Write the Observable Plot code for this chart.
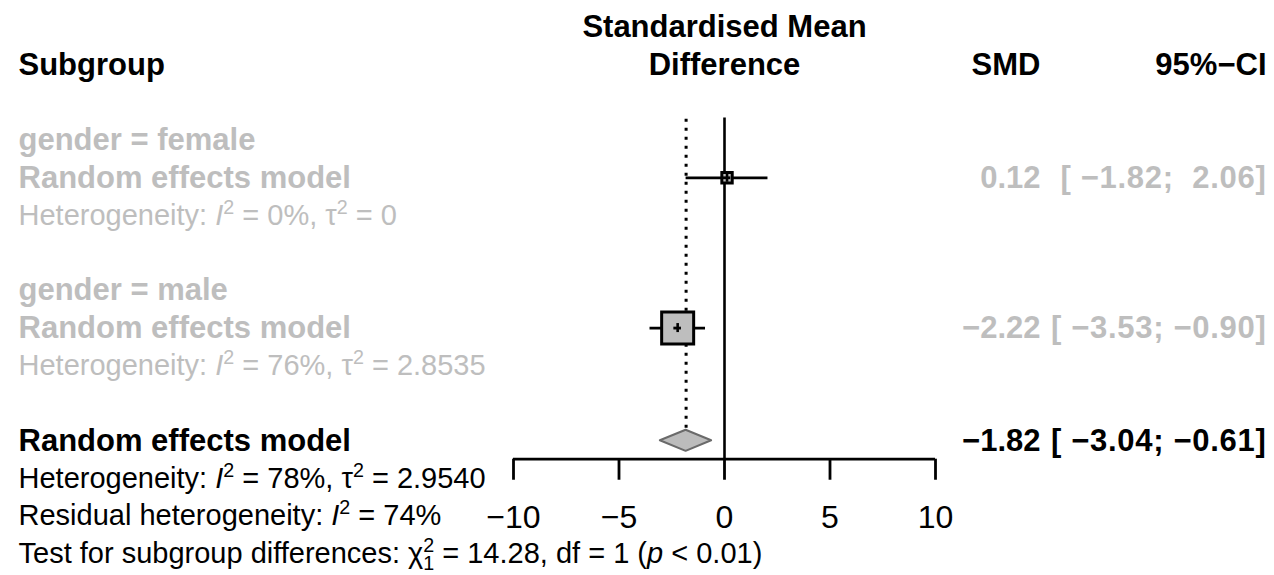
<!DOCTYPE html>
<html><head><meta charset="utf-8">
<script src="https://cdn.jsdelivr.net/npm/d3@7"></script>
<script src="https://cdn.jsdelivr.net/npm/@observablehq/plot@0.6"></script>
<style>body{margin:0;background:#fff} svg{display:block}</style>
</head><body><div id="chart"></div>
<script>
// ---- data ----
const subgroupLabels = ["gender = female", "gender = male"];
const subgroupSMD = [0.12, -2.22];
const subgroupLower = [-1.82, -3.53];
const subgroupUpper = [2.06, -0.90];
const subgroupWeight = [0.105, 1.0];
const subgroupSMDText = ["0.12", "\u22122.22"];
const subgroupCIText = ["[ \u22121.82;  2.06]", "[ \u22123.53; \u22120.90]"];
const subgroupHet = ["Heterogeneity: *I*^2 = 0%, \u03c4^2 = 0", "Heterogeneity: *I*^2 = 76%, \u03c4^2 = 2.8535"];
const overallSMD = -1.82, overallLower = -3.04, overallUpper = -0.61;
const overallSMDText = "\u22121.82";
const overallCIText = "[ \u22123.04; \u22120.61]";
const overallNotes = [
  "Heterogeneity: *I*^2 = 78%, \u03c4^2 = 2.9540",
  "Residual heterogeneity: *I*^2 = 74%",
  "Test for subgroup differences: \u03c7^2_1 = 14.28, df = 1 (*p* < 0.01)"
];
const tickValues = [-10, -5, 0, 5, 10];

// ---- layout rows ----
const GRAY = "#bebebe";
const FONT = "Liberation Sans, Arial, sans-serif";
const BOLD = 31, NORMAL = 29, TICK = 32, COL = 31;
const rowsPerGroup = 4;
const groups = subgroupLabels.map((lab, i) => ({
  label: lab, smd: subgroupSMD[i], lo: subgroupLower[i], hi: subgroupUpper[i],
  w: subgroupWeight[i], smdText: subgroupSMDText[i], ciText: subgroupCIText[i],
  het: subgroupHet[i], row: 2 + i * rowsPerGroup
}));
const overallRow = 2 + groups.length * rowsPerGroup;
const axisRow = overallRow + 0.49;
const tickEndRow = overallRow + 1.05;
const tickLabelRow = overallRow + 2.05;

const boldRows = [], normalRows = [];
groups.forEach(g => {
  boldRows.push({t: g.label, row: g.row, fill: GRAY});
  boldRows.push({t: "Random effects model", row: g.row + 1, fill: GRAY});
  normalRows.push({t: g.het, row: g.row + 2, fill: GRAY});
});
boldRows.push({t: "Random effects model", row: overallRow, fill: "black"});
overallNotes.forEach((t, i) => normalRows.push({t, row: overallRow + 1 + i, fill: "black"}));

const estimates = groups.map(g => ({x: g.smd, lo: g.lo, hi: g.hi, row: g.row + 1, side: 32 * Math.sqrt(g.w)}));
const diamondH = 0.28;
const diamond = [
  {x: overallLower, y1: overallRow, y2: overallRow},
  {x: overallSMD, y1: overallRow - diamondH, y2: overallRow + diamondH},
  {x: overallUpper, y1: overallRow, y2: overallRow}
];

const smdCol = groups.map(g => ({t: g.smdText, ci: g.ciText, row: g.row + 1, fill: GRAY}))
  .concat([{t: overallSMDText, ci: overallCIText, row: overallRow, fill: "black"}]);

const chart = Plot.plot({
  width: 1274, height: 575,
  margin: 0,
  x: {type: "linear", domain: [-10, 10], range: [513, 935], axis: null},
  y: {type: "linear", domain: [-1, 13], range: [27, 553], axis: null},
  r: {type: "identity"},
  style: {fontFamily: FONT, background: "white"},
  marks: [
    // headers
    Plot.text(["Standardised Mean"], {x: 0, y: -1, text: d => d, fontWeight: "bold", fontSize: BOLD, fill: "black"}),
    Plot.text(["Difference"], {x: 0, y: 0, text: d => d, fontWeight: "bold", fontSize: BOLD, fill: "black"}),
    Plot.text(["Subgroup"], {x: -10, dx: -495, y: 0, text: d => d, textAnchor: "start", fontWeight: "bold", fontSize: BOLD}),
    Plot.text(["SMD"], {x: 10, dx: 105, y: 0, text: d => d, textAnchor: "end", fontWeight: "bold", fontSize: BOLD}),
    Plot.text(["95%\u2212CI"], {x: 10, dx: 331, y: 0, text: d => d, textAnchor: "end", fontWeight: "bold", fontSize: BOLD}),
    // left labels
    Plot.text(boldRows, {x: -10, dx: -495, y: "row", text: "t", textAnchor: "start", fontWeight: "bold", fill: "fill", fontSize: BOLD}),
    Plot.text(normalRows, {x: -10, dx: -495, y: "row", text: "t", textAnchor: "start", fill: "fill", fontSize: NORMAL}),
    // reference lines
    Plot.ruleX([overallSMD], {x: d => d, y1: 1.44, y2: overallRow - diamondH - 0.05, stroke: "black", strokeWidth: 3, strokeDasharray: "3,6"}),
    Plot.ruleX([0], {x: d => d, y1: 1.41, y2: axisRow, stroke: "black", strokeWidth: 2.6}),
    // CI lines
    Plot.ruleY(estimates, {x1: "lo", x2: "hi", y: "row", stroke: "black", strokeWidth: 2.8}),
    // boxes
    Plot.dot(estimates, {x: "x", y: "row", symbol: "square", r: d => d.side / Math.sqrt(Math.PI),
      fill: GRAY, stroke: "black", strokeWidth: 3}),
    Plot.ruleX(estimates, {x: "x", y1: d => d.row - 0.12, y2: d => d.row + 0.12, stroke: "black", strokeWidth: 2.6}),
    Plot.ruleY(estimates, {x1: d => d.x - 0.18, x2: d => d.x + 0.18, y: "row", stroke: "black", strokeWidth: 2.8}),
    // diamond
    Plot.areaY(diamond, {x: "x", y1: "y1", y2: "y2", fill: "#bcbcbc", stroke: "#6a6a6a", strokeWidth: 2}),
    // axis
    Plot.ruleY([axisRow], {x1: -10, x2: 10, y: d => d, stroke: "black", strokeWidth: 2.8}),
    Plot.ruleX(tickValues, {x: d => d, y1: axisRow, y2: tickEndRow, stroke: "black", strokeWidth: 2.8}),
    Plot.text(tickValues, {x: d => d, y: tickLabelRow, text: d => d < 0 ? "\u2212" + Math.abs(d) : String(d), fontSize: TICK, fill: "black"}),
    // right columns
    Plot.text(smdCol, {x: 10, dx: 105, y: "row", text: "t", textAnchor: "end", fontSize: COL, fill: "fill", fontWeight: "bold"}),
    Plot.text(smdCol, {x: 10, dx: 331, y: "row", text: "ci", textAnchor: "end", fontSize: COL, fill: "fill", fontWeight: "bold"})
  ]
});
document.getElementById("chart").appendChild(chart);
chart.querySelectorAll("text").forEach(t => {
  t.setAttribute("xml:space", "preserve"); t.style.whiteSpace = "pre";
  if (t.textContent.startsWith("[")) t.style.letterSpacing = "0.7px";
});

// rich text: *italic*, ^superscript, _subscript (offsets in px of the parent size)
const ns = "http://www.w3.org/2000/svg";
chart.querySelectorAll("text").forEach(t => {
  const s = t.textContent;
  if (!/[\*\^_]/.test(s)) return;
  const fs = parseFloat(getComputedStyle(t).fontSize) || NORMAL;
  const small = fs * 0.68;
  while (t.firstChild) t.removeChild(t.firstChild);
  let i = 0, buf = "", italic = false, pendingDy = null;
  const span = (txt, attrs) => {
    const sp = document.createElementNS(ns, "tspan");
    sp.textContent = txt;
    for (const k in attrs) if (attrs[k] != null) sp.setAttribute(k, attrs[k]);
    t.appendChild(sp);
  };
  const flush = () => {
    if (buf) { span(buf, {"font-style": italic ? "italic" : null, dy: pendingDy}); pendingDy = null; buf = ""; }
  };
  while (i < s.length) {
    const c = s[i];
    if (c === "*") { flush(); italic = !italic; i++; continue; }
    if (c === "^" || c === "_") {
      flush();
      const sup = c === "^";
      const both = sup && s[i + 2] === "_";
      const up = -0.38 * fs, down = 0.25 * fs;
      span(s[i + 1], {"font-size": small, dy: sup ? up : down});
      if (both) {
        span(s[i + 3], {"font-size": small, dx: -small * 0.56, dy: down - up});
        pendingDy = -down;
        i += 4;
      } else {
        pendingDy = sup ? -up : -down;
        i += 2;
      }
      continue;
    }
    buf += c; i++;
  }
  flush();
});
</script>
</body></html>
